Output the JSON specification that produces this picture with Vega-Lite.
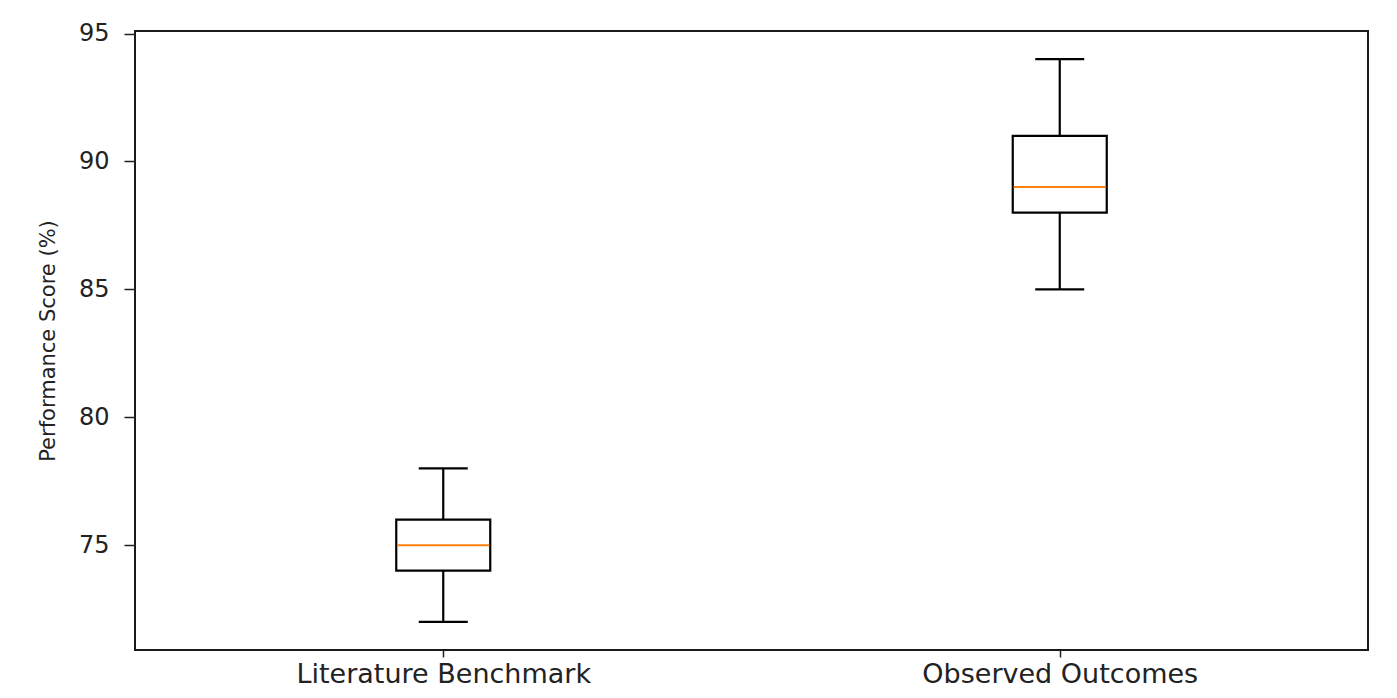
{
  "$schema": "https://vega.github.io/schema/vega-lite/v6.json",
  "width": 1233,
  "height": 619,
  "autosize": "none",
  "padding": {"left": 135, "top": 31, "right": 29, "bottom": 48},
  "background": "white",
  "config": {
    "view": {"stroke": "#1a1a1a", "strokeWidth": 2},
    "axis": {
      "domain": false,
      "grid": false,
      "labelFont": "DejaVu Sans",
      "titleFont": "DejaVu Sans",
      "labelColor": "#222222",
      "titleColor": "#222222",
      "tickColor": "#222222",
      "tickWidth": 1.5,
      "titleFontWeight": "normal",
      "labelLimit": 1000
    }
  },
  "data": {
    "values": [
      {"group": "Literature Benchmark", "min": 72, "q1": 74, "median": 75, "q3": 76, "max": 78},
      {"group": "Observed Outcomes", "min": 85, "q1": 88, "median": 89, "q3": 91, "max": 94}
    ]
  },
  "encoding": {
    "x": {
      "field": "group",
      "type": "nominal",
      "sort": null,
      "scale": {"type": "point", "padding": 0.5},
      "axis": {
        "title": null,
        "labelAngle": 0,
        "tickSize": 7,
        "labelFontSize": 27,
        "labelBaseline": "alphabetic",
        "labelPadding": 25,
        "labelLimit": 1000
      }
    }
  },
  "layer": [
    {
      "mark": {"type": "rule", "color": "black", "strokeWidth": 2.2},
      "encoding": {
        "y": {
          "field": "min",
          "type": "quantitative",
          "scale": {"domain": [70.9, 95.1], "nice": false, "zero": false},
          "axis": {
            "title": "Performance Score (%)",
            "values": [75, 80, 85, 90, 95],
            "tickSize": 11,
            "labelPadding": 15,
            "labelFontSize": 24,
            "titleFontSize": 21,
            "titlePadding": 20
          }
        },
        "y2": {"field": "max"}
      }
    },
    {
      "mark": {"type": "bar", "width": 94, "fill": "white", "stroke": "black", "strokeWidth": 2.2},
      "encoding": {
        "y": {"field": "q1", "type": "quantitative"},
        "y2": {"field": "q3"}
      }
    },
    {
      "mark": {"type": "tick", "color": "#ff7f0e", "size": 92, "thickness": 2, "opacity": 1},
      "encoding": {
        "y": {"field": "median", "type": "quantitative"}
      }
    },
    {
      "mark": {"type": "tick", "color": "black", "size": 49, "thickness": 2.2, "opacity": 1},
      "encoding": {
        "y": {"field": "min", "type": "quantitative"}
      }
    },
    {
      "mark": {"type": "tick", "color": "black", "size": 49, "thickness": 2.2, "opacity": 1},
      "encoding": {
        "y": {"field": "max", "type": "quantitative"}
      }
    }
  ]
}
